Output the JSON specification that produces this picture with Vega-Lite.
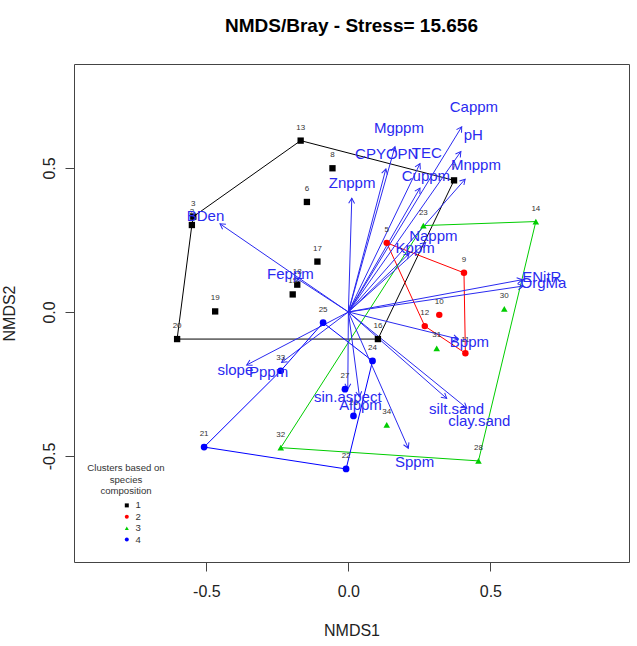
{
  "$schema": "https://vega.github.io/schema/vega-lite/v6.json",
  "width": 555,
  "height": 498,
  "autosize": {"type": "none"},
  "padding": {"left": 74, "top": 64, "right": 8, "bottom": 84},
  "title": {"text": "NMDS/Bray - Stress= 15.656", "fontSize": 19, "font": "Liberation Sans", "fontWeight": "bold", "color": "#000", "anchor": "middle", "baseline": "bottom", "offset": 9},
  "config": {
    "font": "Liberation Sans",
    "view": {"stroke": "#444", "strokeWidth": 1},
    "axis": {"grid": false, "domain": false, "tickColor": "#444", "tickSize": 9, "labelFontSize": 16, "labelColor": "#222", "titleFontSize": 16, "titleFontWeight": "normal", "titleColor": "#222"}
  },
  "resolve": {"legend": {"color": "independent", "shape": "independent"}},
  "datasets": {
    "sites": [
      {"site": "13", "cluster": "1", "NMDS1": -0.168, "NMDS2": 0.595},
      {"site": "8", "cluster": "1", "NMDS1": -0.056, "NMDS2": 0.499},
      {"site": "6", "cluster": "1", "NMDS1": -0.146, "NMDS2": 0.382},
      {"site": "3", "cluster": "1", "NMDS1": -0.546, "NMDS2": 0.331},
      {"site": "2", "cluster": "1", "NMDS1": -0.551, "NMDS2": 0.302},
      {"site": "17", "cluster": "1", "NMDS1": -0.109, "NMDS2": 0.175},
      {"site": "18", "cluster": "1", "NMDS1": -0.180, "NMDS2": 0.095},
      {"site": "15", "cluster": "1", "NMDS1": -0.196, "NMDS2": 0.061},
      {"site": "19", "cluster": "1", "NMDS1": -0.469, "NMDS2": 0.002},
      {"site": "20", "cluster": "1", "NMDS1": -0.603, "NMDS2": -0.094},
      {"site": "16", "cluster": "1", "NMDS1": 0.104, "NMDS2": -0.094},
      {"site": "7", "cluster": "1", "NMDS1": 0.372, "NMDS2": 0.457},
      {"site": "5", "cluster": "2", "NMDS1": 0.135, "NMDS2": 0.240},
      {"site": "9", "cluster": "2", "NMDS1": 0.407, "NMDS2": 0.136},
      {"site": "10", "cluster": "2", "NMDS1": 0.320, "NMDS2": -0.010},
      {"site": "12", "cluster": "2", "NMDS1": 0.269, "NMDS2": -0.049},
      {"site": "11", "cluster": "2", "NMDS1": 0.412, "NMDS2": -0.143},
      {"site": "14", "cluster": "3", "NMDS1": 0.660, "NMDS2": 0.314},
      {"site": "23", "cluster": "3", "NMDS1": 0.264, "NMDS2": 0.300},
      {"site": "30", "cluster": "3", "NMDS1": 0.549, "NMDS2": 0.011},
      {"site": "31", "cluster": "3", "NMDS1": 0.311, "NMDS2": -0.126},
      {"site": "34", "cluster": "3", "NMDS1": 0.135, "NMDS2": -0.392},
      {"site": "28", "cluster": "3", "NMDS1": 0.458, "NMDS2": -0.517},
      {"site": "32", "cluster": "3", "NMDS1": -0.238, "NMDS2": -0.471},
      {"site": "25", "cluster": "4", "NMDS1": -0.089, "NMDS2": -0.037},
      {"site": "33", "cluster": "4", "NMDS1": -0.238, "NMDS2": -0.204},
      {"site": "24", "cluster": "4", "NMDS1": 0.085, "NMDS2": -0.170},
      {"site": "27", "cluster": "4", "NMDS1": -0.012, "NMDS2": -0.268},
      {"site": "26", "cluster": "4", "NMDS1": 0.018, "NMDS2": -0.361},
      {"site": "22", "cluster": "4", "NMDS1": -0.008, "NMDS2": -0.545},
      {"site": "21", "cluster": "4", "NMDS1": -0.508, "NMDS2": -0.469}
    ],
    "hull": [
      {"cluster": "1", "ord": 1, "NMDS1": -0.168, "NMDS2": 0.595},
      {"cluster": "1", "ord": 2, "NMDS1": 0.372, "NMDS2": 0.457},
      {"cluster": "1", "ord": 3, "NMDS1": 0.104, "NMDS2": -0.094},
      {"cluster": "1", "ord": 4, "NMDS1": -0.603, "NMDS2": -0.094},
      {"cluster": "1", "ord": 5, "NMDS1": -0.551, "NMDS2": 0.302},
      {"cluster": "1", "ord": 6, "NMDS1": -0.546, "NMDS2": 0.331},
      {"cluster": "1", "ord": 7, "NMDS1": -0.168, "NMDS2": 0.595},
      {"cluster": "2", "ord": 1, "NMDS1": 0.135, "NMDS2": 0.240},
      {"cluster": "2", "ord": 2, "NMDS1": 0.407, "NMDS2": 0.136},
      {"cluster": "2", "ord": 3, "NMDS1": 0.412, "NMDS2": -0.143},
      {"cluster": "2", "ord": 4, "NMDS1": 0.269, "NMDS2": -0.049},
      {"cluster": "2", "ord": 5, "NMDS1": 0.135, "NMDS2": 0.240},
      {"cluster": "3", "ord": 1, "NMDS1": 0.264, "NMDS2": 0.300},
      {"cluster": "3", "ord": 2, "NMDS1": 0.660, "NMDS2": 0.314},
      {"cluster": "3", "ord": 3, "NMDS1": 0.458, "NMDS2": -0.517},
      {"cluster": "3", "ord": 4, "NMDS1": -0.238, "NMDS2": -0.471},
      {"cluster": "3", "ord": 5, "NMDS1": 0.264, "NMDS2": 0.300},
      {"cluster": "4", "ord": 1, "NMDS1": -0.508, "NMDS2": -0.469},
      {"cluster": "4", "ord": 2, "NMDS1": -0.238, "NMDS2": -0.204},
      {"cluster": "4", "ord": 3, "NMDS1": -0.089, "NMDS2": -0.037},
      {"cluster": "4", "ord": 4, "NMDS1": 0.085, "NMDS2": -0.170},
      {"cluster": "4", "ord": 5, "NMDS1": -0.008, "NMDS2": -0.545},
      {"cluster": "4", "ord": 6, "NMDS1": -0.508, "NMDS2": -0.469}
    ],
    "vectors": [
      {"var": "Cappm", "x": 0.399, "y": 0.643, "lx": 0.442, "ly": 0.713},
      {"var": "pH", "x": 0.396, "y": 0.557, "lx": 0.440, "ly": 0.615},
      {"var": "Mgppm", "x": 0.164, "y": 0.574, "lx": 0.178, "ly": 0.638},
      {"var": "CPYOPN", "x": 0.132, "y": 0.497, "lx": 0.135, "ly": 0.548},
      {"var": "TEC", "x": 0.252, "y": 0.515, "lx": 0.276, "ly": 0.553},
      {"var": "Mnppm", "x": 0.411, "y": 0.461, "lx": 0.449, "ly": 0.510},
      {"var": "Cuppm", "x": 0.252, "y": 0.430, "lx": 0.273, "ly": 0.472},
      {"var": "Znppm", "x": 0.012, "y": 0.395, "lx": 0.013, "ly": 0.447},
      {"var": "Nappm", "x": 0.272, "y": 0.241, "lx": 0.299, "ly": 0.265},
      {"var": "Kppm", "x": 0.214, "y": 0.203, "lx": 0.235, "ly": 0.223},
      {"var": "ENitR", "x": 0.612, "y": 0.112, "lx": 0.681, "ly": 0.123},
      {"var": "OrgMa", "x": 0.615, "y": 0.090, "lx": 0.687, "ly": 0.100},
      {"var": "BDen", "x": -0.452, "y": 0.306, "lx": -0.503, "ly": 0.333},
      {"var": "Feppm", "x": -0.182, "y": 0.117, "lx": -0.204, "ly": 0.132},
      {"var": "slope", "x": -0.358, "y": -0.184, "lx": -0.398, "ly": -0.201},
      {"var": "Pppm", "x": -0.235, "y": -0.175, "lx": -0.281, "ly": -0.207},
      {"var": "sin.aspect", "x": -0.002, "y": -0.267, "lx": -0.002, "ly": -0.294},
      {"var": "Alppm", "x": 0.039, "y": -0.294, "lx": 0.043, "ly": -0.323},
      {"var": "Sppm", "x": 0.211, "y": -0.473, "lx": 0.233, "ly": -0.520},
      {"var": "silt.sand", "x": 0.346, "y": -0.300, "lx": 0.381, "ly": -0.338},
      {"var": "clay.sand", "x": 0.417, "y": -0.334, "lx": 0.461, "ly": -0.377},
      {"var": "Bppm", "x": 0.387, "y": -0.094, "lx": 0.426, "ly": -0.103}
    ]
  },
  "layer": [
    {
      "data": {"name": "hull"},
      "mark": {"type": "line", "strokeWidth": 1},
      "encoding": {
        "x": {"field": "NMDS1", "type": "quantitative", "scale": {"domain": [-0.966, 0.988], "nice": false, "zero": false}, "axis": {"title": "NMDS1", "values": [-0.5, 0, 0.5], "labelExpr": "datum.value < 0 ? '-' + format(-datum.value, '.1f') : format(datum.value, '.1f')", "labelPadding": 12, "titlePadding": 23}},
        "y": {"field": "NMDS2", "type": "quantitative", "scale": {"domain": [-0.868, 0.861], "nice": false, "zero": false}, "axis": {"title": "NMDS2", "values": [-0.5, 0, 0.5], "labelExpr": "datum.value < 0 ? '-' + format(-datum.value, '.1f') : format(datum.value, '.1f')", "labelAngle": -90, "labelAlign": "center", "labelBaseline": "bottom", "labelPadding": 8, "titlePadding": 24}},
        "color": {"field": "cluster", "type": "nominal", "scale": {"domain": ["1", "2", "3", "4"], "range": ["#000000", "#FF0000", "#00CD00", "#0000FF"]}, "legend": null},
        "detail": {"field": "cluster", "type": "nominal"},
        "order": {"field": "ord", "type": "quantitative"}
      }
    },
    {
      "data": {"name": "vectors"},
      "mark": {"type": "rule", "color": "#2a2af0", "strokeWidth": 1},
      "encoding": {
        "x": {"field": "x", "type": "quantitative"},
        "y": {"field": "y", "type": "quantitative"},
        "x2": {"datum": 0},
        "y2": {"datum": 0}
      }
    },
    {
      "data": {"name": "vectors"},
      "transform": [{"calculate": "atan2(datum.x, datum.y) * 180 / PI", "as": "ang"}],
      "mark": {"type": "point", "shape": "M-0.5,0.866L0,0L0.5,0.866", "filled": false, "color": "#2a2af0", "strokeWidth": 1, "size": 140, "opacity": 1},
      "encoding": {
        "x": {"field": "x", "type": "quantitative"},
        "y": {"field": "y", "type": "quantitative"},
        "angle": {"field": "ang", "type": "quantitative", "scale": null, "legend": null}
      }
    },
    {
      "data": {"name": "sites"},
      "mark": {"type": "point", "filled": true, "opacity": 1},
      "encoding": {
        "x": {"field": "NMDS1", "type": "quantitative"},
        "y": {"field": "NMDS2", "type": "quantitative"},
        "color": {"field": "cluster", "type": "nominal", "legend": {"title": ["Clusters based on", "species", "composition"], "orient": "none", "legendX": 13, "legendY": 399, "titleFontSize": 9.6, "titleFontWeight": "normal", "titleColor": "#333", "titleAlign": "center", "titleAnchor": "middle", "titleLineHeight": 11.5, "labelFontSize": 9.6, "labelColor": "#333", "symbolSize": 16, "symbolOffset": 10, "rowPadding": 0.4, "labelOffset": 4, "titlePadding": 5, "padding": 0}},
        "shape": {"field": "cluster", "type": "nominal", "scale": {"domain": ["1", "2", "3", "4"], "range": ["square", "circle", "triangle-up", "circle"]}, "legend": {"title": ["Clusters based on", "species", "composition"]}},
        "size": {"field": "cluster", "type": "ordinal", "scale": {"domain": ["1", "2", "3", "4"], "range": [40, 45, 55, 20]}, "legend": null}
      }
    },
    {
      "data": {"name": "sites"},
      "mark": {"type": "text", "fontSize": 8, "color": "#333", "dy": -13, "align": "center", "baseline": "middle"},
      "encoding": {
        "x": {"field": "NMDS1", "type": "quantitative"},
        "y": {"field": "NMDS2", "type": "quantitative"},
        "text": {"field": "site", "type": "nominal"}
      }
    },
    {
      "data": {"name": "vectors"},
      "mark": {"type": "text", "fontSize": 15, "color": "#2a2af0", "align": "center", "baseline": "middle"},
      "encoding": {
        "x": {"field": "lx", "type": "quantitative"},
        "y": {"field": "ly", "type": "quantitative"},
        "text": {"field": "var", "type": "nominal"}
      }
    }
  ]
}
